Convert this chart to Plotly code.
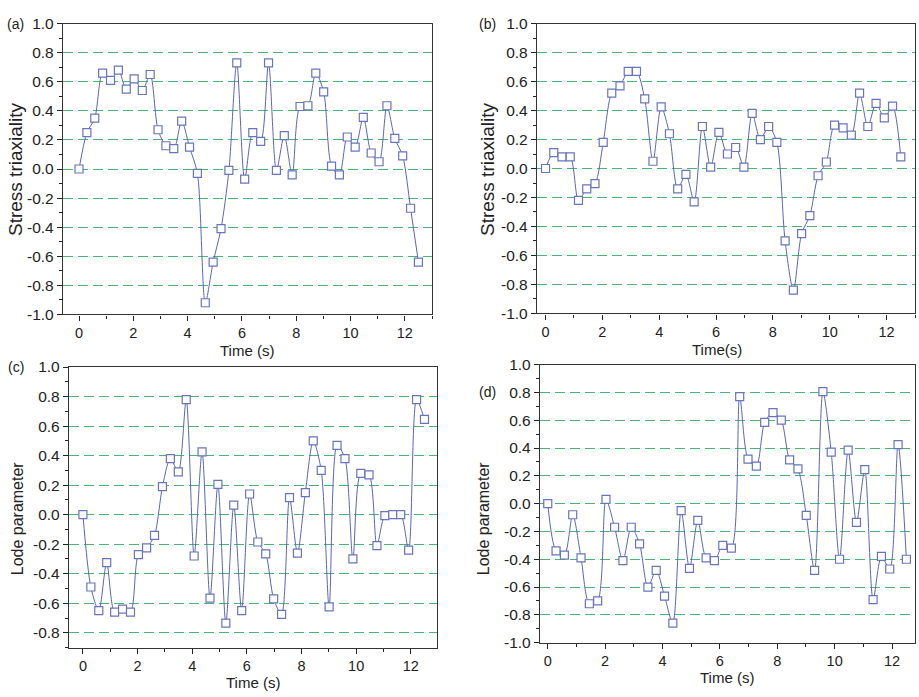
import plotly.graph_objects as go

W, H = 919, 697

time_s = [0.00, 0.29, 0.58, 0.87, 1.16, 1.45, 1.74, 2.03, 2.33, 2.62, 2.91, 3.20, 3.49, 3.78,
          4.07, 4.36, 4.65, 4.94, 5.23, 5.52, 5.81, 6.10, 6.40, 6.69, 6.98, 7.27, 7.56, 7.85,
          8.14, 8.43, 8.72, 9.01, 9.30, 9.59, 9.88, 10.17, 10.47, 10.76, 11.05, 11.34, 11.63,
          11.92, 12.21, 12.50]

triax_a = [0.00, 0.25, 0.35, 0.66, 0.61, 0.68, 0.55, 0.62, 0.54, 0.65,
           0.27, 0.16, 0.14, 0.33, 0.15, -0.03, -0.92, -0.64, -0.41, -0.01,
           0.73, -0.07, 0.25, 0.19, 0.73, -0.01, 0.23, -0.04, 0.43, 0.435,
           0.66, 0.53, 0.02, -0.04, 0.22, 0.15, 0.355, 0.11, 0.05, 0.435,
           0.21, 0.09, -0.27, -0.64]

triax_b = [0.00, 0.11, 0.08, 0.08, -0.22, -0.14, -0.105, 0.18, 0.52, 0.57,
           0.67, 0.67, 0.48, 0.05, 0.425, 0.24, -0.14, -0.04, -0.23, 0.29,
           0.01, 0.25, 0.10, 0.145, 0.01, 0.38, 0.20, 0.29, 0.18, -0.50,
           -0.84, -0.45, -0.325, -0.05, 0.045, 0.30, 0.28, 0.23, 0.52, 0.29,
           0.45, 0.35, 0.43, 0.08]

lode_c = [0.00, -0.49, -0.65, -0.325, -0.66, -0.64, -0.66, -0.27, -0.225, -0.14,
          0.19, 0.38, 0.29, 0.78, -0.28, 0.425, -0.565, 0.205, -0.735, 0.065,
          -0.65, 0.14, -0.185, -0.265, -0.57, -0.675, 0.115, -0.26, 0.15, 0.50,
          0.30, -0.625, 0.47, 0.38, -0.30, 0.28, 0.27, -0.21, -0.007, 0.00,
          0.00, -0.24, 0.78, 0.645]

lode_d = [0.00, -0.34, -0.37, -0.08, -0.39, -0.72, -0.70, 0.03, -0.17, -0.41,
          -0.17, -0.29, -0.60, -0.48, -0.665, -0.86, -0.05, -0.465, -0.12, -0.39,
          -0.41, -0.30, -0.32, 0.77, 0.32, 0.27, 0.585, 0.655, 0.60, 0.315,
          0.25, -0.085, -0.48, 0.805, 0.37, -0.40, 0.385, -0.135, 0.245, -0.69,
          -0.38, -0.47, 0.425, -0.40]

y_tick_vals = [1.0, 0.8, 0.6, 0.4, 0.2, 0.0, -0.2, -0.4, -0.6, -0.8, -1.0]
y_tick_text = ["1.0", "0.8", "0.6", "0.4", "0.2", "0.0", "-0.2", "-0.4", "-0.6", "-0.8", "-1.0"]
x_tick_vals = [0, 2, 4, 6, 8, 10, 12]
x_tick_text = ["0", "2", "4", "6", "8", "10", "12"]

panel_labels = ["(a)", "(b)", "(c)", "(d)"]
y_titles = ["Stress triaxiality", "Stress triaxiality", "Lode parameter", "Lode parameter"]
x_titles = ["Time (s)", "Time(s)", "Time (s)", "Time (s)"]
series = [triax_a, triax_b, lode_c, lode_d]

# pixel boxes of plot areas: (left, right, top, bottom)
boxes = [(63, 432, 15, 313), (537, 915, 15, 312), (69, 436.5, 367, 654.5), (540, 915, 364.5, 649.5)]
x_ranges = [[-0.59, 13.0], [-0.3, 13.0], [-0.51, 12.94], [-0.27, 12.8]]
y_ranges = [[-1.0, 1.0], [-1.0, 1.0], [-0.9, 1.0], [-1.0, 1.0]]
label_pos = [(15, 15), (487, 15), (16, 367), (487, 393)]
ytitle_pos = [(15, 164), (487, 164), (17, 522), (483, 522)]
ytitle_size = [19, 19, 16, 16]
xtitle_pos = [(247, 350), (717, 349), (253, 690.5), (727, 685.5)]

FONT = "Liberation Sans, Arial, sans-serif"
TXT = "#222222"
LINE_C = "#5a65b3"
MARK_C = "#6a74bd"
GRID_C = "rgb(72,180,118)"

fig = go.Figure()
layout = dict(
    width=W, height=H,
    margin=dict(l=0, r=0, t=0, b=0),
    paper_bgcolor="white", plot_bgcolor="white",
    showlegend=False,
    font=dict(family=FONT, size=15, color=TXT),
)
annotations = []

for i in range(4):
    sfx = "" if i == 0 else str(i + 1)
    l, r, t, b = boxes[i]
    fig.add_trace(go.Scatter(
        x=time_s, y=series[i], mode="lines+markers",
        xaxis="x" + sfx, yaxis="y" + sfx,
        line=dict(color=LINE_C, width=1, shape="spline", smoothing=0.8),
        marker=dict(symbol="square", size=8, color="white",
                    line=dict(color=MARK_C, width=1.2)),
        cliponaxis=False, hoverinfo="skip",
    ))
    layout["xaxis" + sfx] = dict(
        domain=[l / W, r / W], anchor="y" + sfx, range=x_ranges[i],
        tickvals=x_tick_vals, ticktext=x_tick_text,
        ticks="outside", ticklen=5, tickwidth=1, tickcolor="#222",
        minor=dict(dtick=1, tick0=0, ticks="outside", ticklen=3, tickcolor="#222", showgrid=False),
        showgrid=False, zeroline=False,
        showline=True, linecolor="#333", linewidth=1.3, mirror=True,
        tickfont=dict(family=FONT, size=14.5, color=TXT),
    )
    layout["yaxis" + sfx] = dict(
        domain=[1 - b / H, 1 - t / H], anchor="x" + sfx, range=y_ranges[i],
        tickvals=y_tick_vals, ticktext=y_tick_text,
        ticks="outside", ticklen=5, tickwidth=1, tickcolor="#222",
        minor=dict(dtick=0.1, tick0=0, ticks="outside", ticklen=3, tickcolor="#222", showgrid=False),
        showgrid=True, gridcolor=GRID_C, gridwidth=1, griddash="10px,5px",
        zeroline=False,
        showline=True, linecolor="#333", linewidth=1.3, mirror=True,
        tickfont=dict(family=FONT, size=15.5, color=TXT),
    )
    lx, ly = label_pos[i]
    annotations.append(dict(text=panel_labels[i], x=lx / W, y=1 - ly / H, xref="paper", yref="paper",
                            showarrow=False, xanchor="center", yanchor="middle",
                            font=dict(family=FONT, size=14, color=TXT)))
    tx, ty = ytitle_pos[i]
    annotations.append(dict(text=y_titles[i], x=tx / W, y=1 - ty / H, xref="paper", yref="paper",
                            showarrow=False, xanchor="center", yanchor="middle", textangle=-90,
                            font=dict(family=FONT, size=ytitle_size[i], color=TXT)))
    xx, xy = xtitle_pos[i]
    annotations.append(dict(text=x_titles[i], x=xx / W, y=1 - xy / H, xref="paper", yref="paper",
                            showarrow=False, xanchor="center", yanchor="middle", borderpad=0,
                            font=dict(family=FONT, size=15, color=TXT)))

layout["annotations"] = annotations
fig.update_layout(**layout)

post = ("document.documentElement.style.margin='0';document.documentElement.style.padding='0';"
        "document.documentElement.style.overflow='hidden';"
        "document.body.style.margin='0';document.body.style.padding='0';"
        "document.body.style.overflow='hidden';")
fig.write_html("out.html", post_script=post, config={"displayModeBar": False})
